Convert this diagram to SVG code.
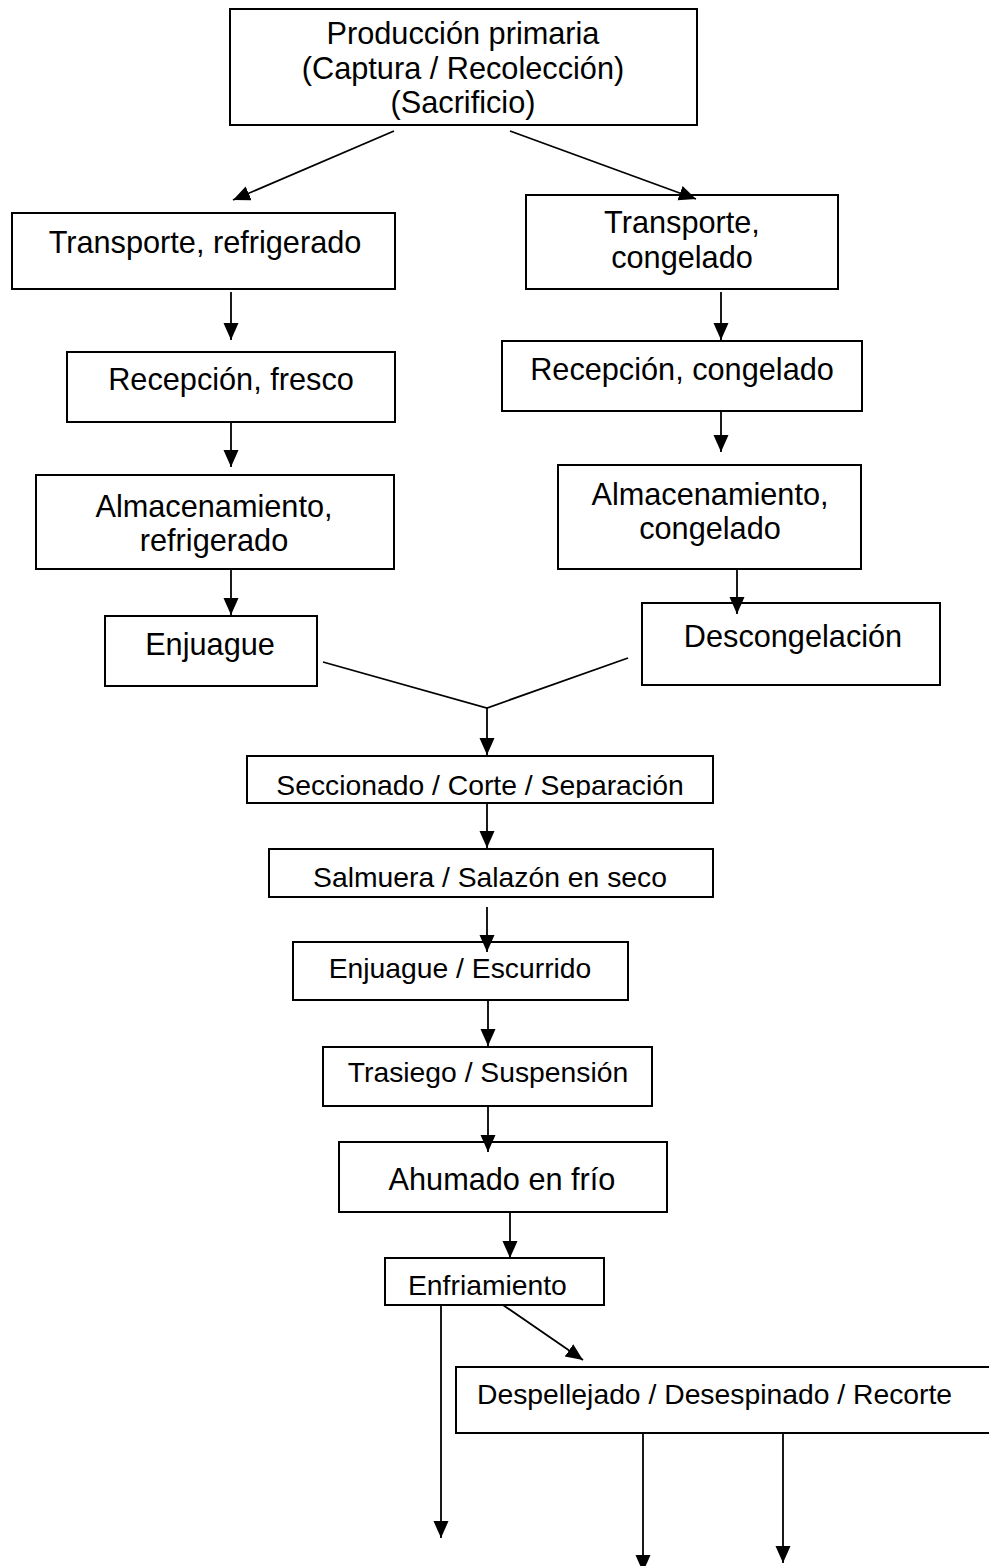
<svg xmlns="http://www.w3.org/2000/svg" width="989" height="1566" viewBox="0 0 989 1566">
<style>
.box{fill:#fff;stroke:#000;stroke-width:2}
.t{font-family:"Liberation Sans",Arial,Helvetica,sans-serif;fill:#000;text-anchor:middle}
.big{font-size:30.7px}
.med{font-size:28.3px}
.c{fill:none;stroke:#000;stroke-width:1.8}
.a{marker-end:url(#ah)}
</style>
<defs>
<marker id="ah" markerUnits="userSpaceOnUse" markerWidth="18" markerHeight="16" refX="17" refY="7.5" orient="auto">
<path d="M0,0 L17,7.5 L0,15 z" fill="#000"/>
</marker>
<clipPath id="clipSecc"><rect x="248" y="757" width="464" height="41"/></clipPath>
</defs>
<rect width="989" height="1566" fill="#fff"/>

<g id="n-produccion">
<rect class="box" x="230" y="9" width="467" height="116"/>
<text class="t big" x="463" y="44">Producción primaria</text>
<text class="t big" x="463" y="79">(Captura / Recolección)</text>
<text class="t big" x="463" y="113">(Sacrificio)</text>
</g>

<g id="n-transporte-refrigerado">
<rect class="box" x="12" y="213" width="383" height="76"/>
<text class="t big" x="205" y="253">Transporte, refrigerado</text>
</g>

<g id="n-recepcion-fresco">
<rect class="box" x="67" y="352" width="328" height="70"/>
<text class="t big" x="231" y="390">Recepción, fresco</text>
</g>

<g id="n-almacenamiento-refrigerado">
<rect class="box" x="36" y="475" width="358" height="94"/>
<text class="t big" x="214" y="517">Almacenamiento,</text>
<text class="t big" x="214" y="551">refrigerado</text>
</g>

<g id="n-enjuague">
<rect class="box" x="105" y="616" width="212" height="70"/>
<text class="t big" x="210" y="655">Enjuague</text>
</g>

<g id="n-transporte-congelado">
<rect class="box" x="526" y="195" width="312" height="94"/>
<text class="t big" x="682" y="233">Transporte,</text>
<text class="t big" x="682" y="268">congelado</text>
</g>

<g id="n-recepcion-congelado">
<rect class="box" x="502" y="341" width="360" height="70"/>
<text class="t big" x="682" y="380">Recepción, congelado</text>
</g>

<g id="n-almacenamiento-congelado">
<rect class="box" x="558" y="465" width="303" height="104"/>
<text class="t big" x="710" y="505">Almacenamiento,</text>
<text class="t big" x="710" y="539">congelado</text>
</g>

<g id="n-descongelacion">
<rect class="box" x="642" y="603" width="298" height="82"/>
<text class="t big" x="793" y="647">Descongelación</text>
</g>

<g id="n-seccionado">
<rect class="box" x="247" y="756" width="466" height="47"/>
<text class="t med" x="480" y="795" clip-path="url(#clipSecc)">Seccionado / Corte / Separación</text>
</g>

<g id="n-salmuera">
<rect class="box" x="269" y="849" width="444" height="48"/>
<text class="t med" x="490" y="887">Salmuera / Salazón en seco</text>
</g>

<g id="n-enjuague-escurrido">
<rect class="box" x="293" y="942" width="335" height="58"/>
<text class="t med" x="460" y="978">Enjuague / Escurrido</text>
</g>

<g id="n-trasiego">
<rect class="box" x="323" y="1047" width="329" height="59"/>
<text class="t med" x="488" y="1082">Trasiego / Suspensión</text>
</g>

<g id="n-ahumado">
<rect class="box" x="339" y="1142" width="328" height="70"/>
<text class="t big" x="502" y="1190">Ahumado en frío</text>
</g>

<g id="n-enfriamiento">
<rect class="box" x="385" y="1258" width="219" height="47"/>
<text class="t med" x="408" y="1295" style="text-anchor:start">Enfriamiento</text>
</g>

<g id="n-despellejado">
<rect class="box" x="456" y="1367" width="545" height="66"/>
<text class="t med" x="477" y="1404" style="text-anchor:start">Despellejado / Desespinado / Recorte</text>
</g>

<g id="connectors">
<line class="c a" x1="394" y1="131" x2="233" y2="200"/>
<line class="c a" x1="510" y1="131" x2="696" y2="199"/>
<line class="c a" x1="231" y1="292" x2="231" y2="340"/>
<line class="c a" x1="231" y1="422" x2="231" y2="467"/>
<line class="c a" x1="231" y1="569" x2="231" y2="615"/>
<line class="c a" x1="721" y1="292" x2="721" y2="340"/>
<line class="c a" x1="721" y1="411" x2="721" y2="452"/>
<line class="c a" x1="737" y1="569" x2="737" y2="614"/>
<polyline class="c" points="323,662 487,708 628,658"/>
<line class="c a" x1="487" y1="708" x2="487" y2="755"/>
<line class="c a" x1="487" y1="803" x2="487" y2="848"/>
<line class="c a" x1="487" y1="907" x2="487" y2="952"/>
<line class="c a" x1="488" y1="1000" x2="488" y2="1046"/>
<line class="c a" x1="488" y1="1106" x2="488" y2="1152"/>
<line class="c a" x1="510" y1="1212" x2="510" y2="1258"/>
<line class="c a" x1="441" y1="1305" x2="441" y2="1538"/>
<line class="c a" x1="503" y1="1305" x2="583" y2="1360"/>
<line class="c a" x1="643" y1="1433" x2="643" y2="1572"/>
<line class="c a" x1="783" y1="1433" x2="783" y2="1563"/>
</g>
</svg>
